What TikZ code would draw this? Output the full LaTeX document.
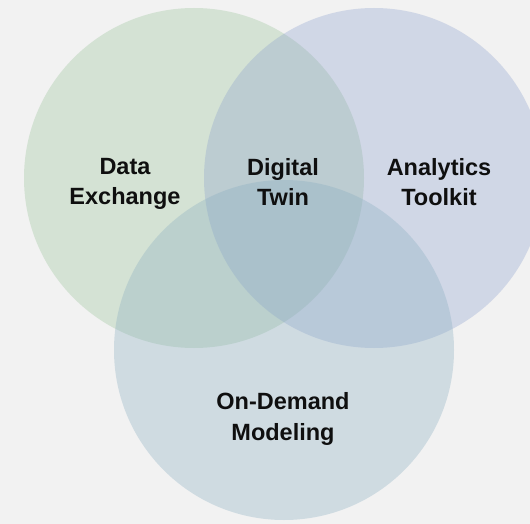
\documentclass[tikz,border=0pt]{standalone}
\usepackage{fontspec}
\setmainfont{Liberation Sans}
\usepackage{tikz}

\definecolor{backgr}{RGB}{242,242,242}
\definecolor{greenset}{RGB}{150,193,150}
\definecolor{blueset}{RGB}{139,159,205}
\definecolor{grayset}{RGB}{135,172,192}
\definecolor{labeltext}{RGB}{15,15,15}

\begin{document}
\begin{tikzpicture}[x = 1pt, y = -1pt,
    setcircle/.style = {circle, minimum size = 340pt, inner sep = 0pt, fill opacity = 0.32},
    setlabel/.style = {align = center, text = labeltext, font = \bfseries\fontsize{23.5}{30.5}\selectfont}]
\useasboundingbox (0,0) rectangle (530,524);
\fill[backgr] (0,0) rectangle (530,524);
\clip (0,0) rectangle (530,524);

\draw (194,178) node[setcircle, fill = greenset](c1){}
    (374,178) node[setcircle, fill = blueset](c2){}
    (284,350) node[setcircle, fill = grayset](c3){};

\draw (125,184) node[setlabel](t1){Data\\Exchange}
    (283,182) node[setlabel](t2){Digital\\Twin}
    (439,182) node[setlabel](t3){Analytics\\Toolkit}
    (283,419) node[setlabel](t4){On-Demand\\Modeling};

\end{tikzpicture}
\end{document}
